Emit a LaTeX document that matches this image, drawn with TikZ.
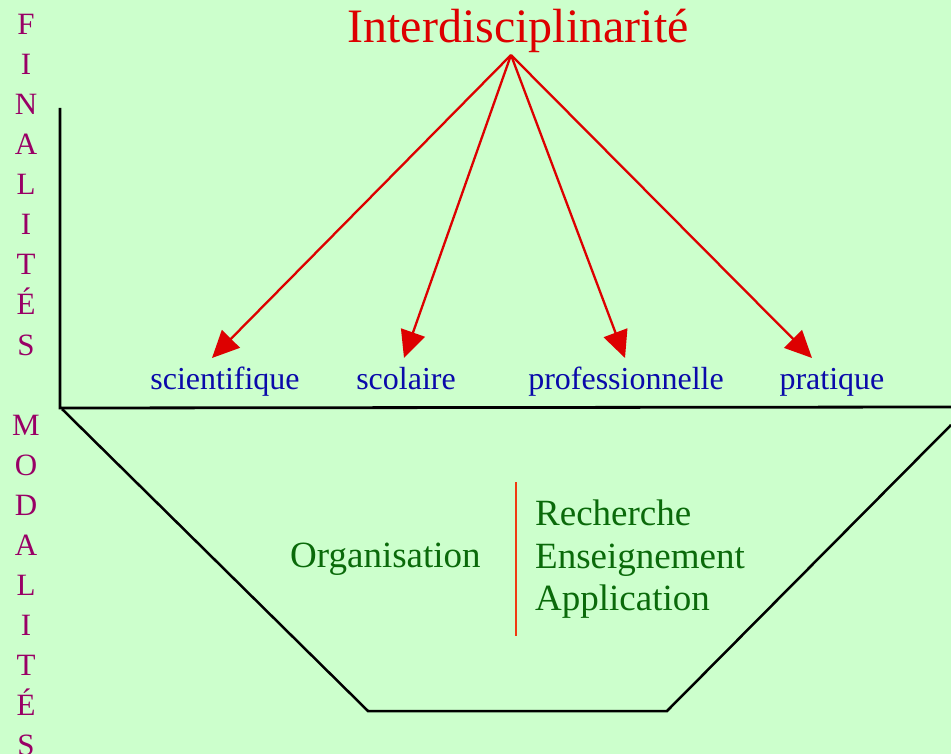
\documentclass[tikz,border=0pt]{standalone}
\usepackage{fontspec}
\setmainfont{Liberation Serif}
\usetikzlibrary{arrows.meta}
\definecolor{bg}{HTML}{CCFFCC}
\definecolor{sidecol}{HTML}{990066}
\definecolor{labcol}{HTML}{0A0AAA}
\definecolor{grn}{HTML}{0A6A0A}
\definecolor{arrred}{HTML}{DD0000}
\definecolor{barred}{HTML}{F03A10}
\tikzset{
  sideletter/.style={text=sidecol, anchor=base, inner sep=0pt, font=\fontsize{31}{36}\selectfont},
  finlabel/.style={text=labcol, anchor=base, inner sep=0pt, font=\fontsize{32}{38}\selectfont},
  orgtext/.style={text=grn, anchor=base west, inner sep=0pt, font=\fontsize{37}{44}\selectfont},
  titletext/.style={text=arrred, anchor=base, inner sep=0pt, font=\fontsize{48}{56}\selectfont},
  redarrow/.style={draw=arrred, line width=2.3pt, -{Triangle[length=27pt,width=25pt]}},
  axisline/.style={draw=black, line width=2.8pt},
  trapline/.style={draw=black, line width=2.5pt}
}
\begin{document}
\begin{tikzpicture}[x=1pt,y=-1pt]
\fill[bg] (0,0) rectangle (951,754);
\useasboundingbox (0,0) rectangle (951,754);

% side letters
\foreach \l [count=\i from 0] in {F,I,N,A,L,I,T,É,S}
  \node[sideletter] (fin\i) at (26,35+40*\i) {\l};
\foreach \l [count=\i from 0] in {M,O,D,A,L,I,T,É,S}
  \node[sideletter] (mod\i) at (26,435+40*\i) {\l};

% axes and trapezoid
\coordinate (axtop) at (60,108);
\coordinate (axcorner) at (60,408);
\coordinate (axright) at (951,407);
\draw[axisline] (axtop) -- (axcorner) -- (axright);
\coordinate (tl) at (62,409);
\coordinate (bl) at (368,711);
\coordinate (br) at (667,711);
\coordinate (tr) at (951,425);
\draw[trapline] (tl) -- (bl) -- (br) -- (tr);

% title and arrows
\node[titletext] (title) at (518,43) {Interdisciplinarité};
\coordinate (apex) at (511,55);
\coordinate (t1) at (212,358);
\coordinate (t2) at (404,358);
\coordinate (t3) at (625,358);
\coordinate (t4) at (812,358);
\foreach \t in {t1,t2,t3,t4}
  \draw[redarrow] (apex) -- (\t);

% labels
\node[finlabel] (sci) at (225,389) {scientifique};
\node[finlabel] (sco) at (406,389) {scolaire};
\node[finlabel] (pro) at (626,389) {professionnelle};
\node[finlabel] (pra) at (832,389) {pratique};

% organisation
\node[orgtext] (org) at (290,567) {Organisation};
\coordinate (bartop) at (516,482);
\coordinate (barbot) at (516,636);
\draw[draw=barred, line width=2pt] (bartop) -- (barbot);
\node[orgtext] (rec) at (535,525) {Recherche};
\node[orgtext] (ens) at (535,568) {Enseignement};
\node[orgtext] (app) at (535,610) {Application};
\end{tikzpicture}
\end{document}
